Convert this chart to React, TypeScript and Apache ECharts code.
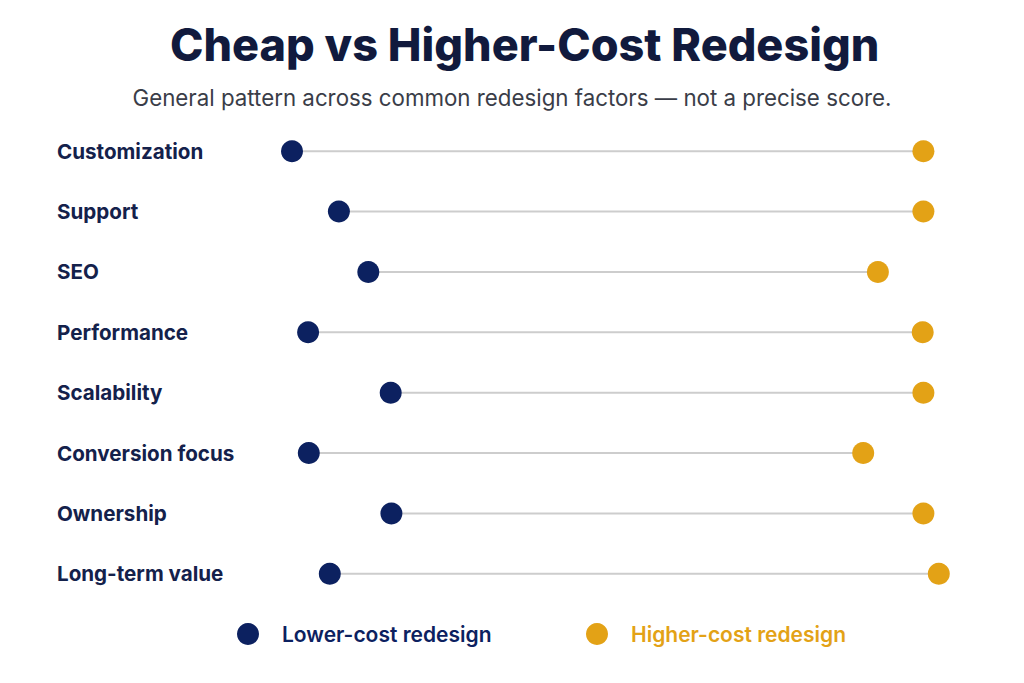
import React, { useEffect, useRef } from "react";
import * as echarts from "echarts";

// Factors compared, top to bottom
const factors = [
  "Customization",
  "Support",
  "SEO",
  "Performance",
  "Scalability",
  "Conversion focus",
  "Ownership",
  "Long-term value",
];

// Relative position of each option on a 0–100 pattern scale
const lowerCost = [6.0, 12.7, 16.9, 8.3, 20.1, 8.4, 20.2, 11.4];
const higherCost = [96.2, 96.2, 89.7, 96.1, 96.2, 87.6, 96.2, 98.4];

const seriesNames = ["Lower-cost redesign", "Higher-cost redesign"];

const NAVY = "#0c2160";
const GOLD = "#e3a216";
const TEXT_NAVY = "#14214b";
const FONT = "Inter, 'Noto Sans', sans-serif";

const legendText = {
  fontFamily: FONT,
  fontSize: 21,
  fontWeight: 600,
  padding: [0, 0, 0, 18],
};

export default function App() {
  const ref = useRef<HTMLDivElement>(null);

  useEffect(() => {
    if (!ref.current) return;
    const chart = echarts.init(ref.current, null, { renderer: "svg" });

    const spans = factors.map((_, i) => [lowerCost[i], higherCost[i], i]);

    chart.setOption({
      animation: false,
      backgroundColor: "#ffffff",
      textStyle: { fontFamily: FONT },
      title: [
        {
          text: "Cheap vs Higher-Cost Redesign",
          left: 165,
          top: 17,
          textStyle: {
            fontFamily: FONT,
            fontSize: 45,
            fontWeight: 800,
            color: "#111a3d",
          },
        },
        {
          text: "General pattern across common redesign factors — not a precise score.",
          left: "center",
          top: 81,
          textStyle: {
            fontFamily: FONT,
            fontSize: 22.3,
            fontWeight: 400,
            color: "#3a3d48",
          },
        },
      ],
      legend: [
        {
          data: [{ name: seriesNames[0], textStyle: { color: NAVY } }],
          left: 232,
          top: 618,
          icon: "circle",
          itemWidth: 22,
          itemHeight: 22,
          textStyle: legendText,
          selectedMode: false,
        },
        {
          data: [{ name: seriesNames[1], textStyle: { color: GOLD } }],
          left: 581,
          top: 618,
          icon: "circle",
          itemWidth: 22,
          itemHeight: 22,
          textStyle: legendText,
          selectedMode: false,
        },
      ],
      grid: { left: 250, right: 74, top: 121, bottom: 79 },
      xAxis: {
        type: "value",
        min: 0,
        max: 100,
        show: false,
      },
      yAxis: {
        type: "category",
        data: factors,
        inverse: true,
        axisLine: { show: false },
        axisTick: { show: false },
        splitLine: { show: false },
        axisLabel: {
          align: "left",
          margin: 193,
          fontFamily: FONT,
          fontSize: 20.6,
          fontWeight: 700,
          color: TEXT_NAVY,
        },
      },
      series: [
        {
          type: "custom",
          name: "span",
          silent: true,
          data: spans,
          encode: { x: [0, 1], y: 2 },
          renderItem: (_params: any, api: any) => {
            const idx = api.value(2);
            const a = api.coord([api.value(0), idx]);
            const b = api.coord([api.value(1), idx]);
            return {
              type: "line",
              shape: { x1: a[0], y1: a[1], x2: b[0], y2: b[1] },
              style: { stroke: "#cdcdcd", lineWidth: 2 },
            };
          },
          z: 1,
        },
        {
          type: "scatter",
          name: seriesNames[0],
          data: lowerCost.map((v, i) => [v, factors[i]]),
          symbol: "circle",
          symbolSize: 22,
          itemStyle: { color: NAVY, opacity: 1 },
          z: 3,
        },
        {
          type: "scatter",
          name: seriesNames[1],
          data: higherCost.map((v, i) => [v, factors[i]]),
          symbol: "circle",
          symbolSize: 22,
          itemStyle: { color: GOLD, opacity: 1 },
          z: 3,
        },
      ],
    });

    return () => chart.dispose();
  }, []);

  return (
    <div
      ref={ref}
      style={{ position: "fixed", left: 0, top: 0, width: 1024, height: 683 }}
    />
  );
}
